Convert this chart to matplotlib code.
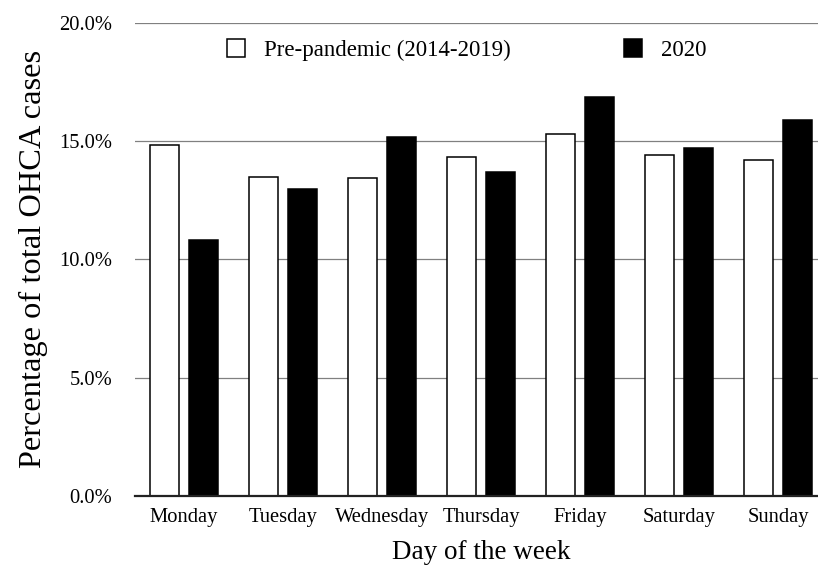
import matplotlib.pyplot as plt
import numpy as np
from matplotlib.patches import Patch
from matplotlib.ticker import PercentFormatter

days = ["Monday", "Tuesday", "Wednesday", "Thursday", "Friday", "Saturday", "Sunday"]
pre_pandemic = [14.85, 13.50, 13.43, 14.32, 15.31, 14.42, 14.19]
year_2020 = [10.81, 12.99, 15.18, 13.70, 16.86, 14.69, 15.89]
y_ticks = [0, 5, 10, 15, 20]

plt.rcParams["font.family"] = ["Liberation Serif", "DejaVu Serif"]

figure = plt.figure(figsize=(8.18, 5.66), dpi=100)
axis = figure.add_axes([0.1646, 0.1237, 0.847, 0.8362])

x = np.arange(len(days))
offset = 0.198
width = 0.29
axis.bar(x - offset, pre_pandemic, width, color="white", edgecolor="black",
         linewidth=1.1, zorder=3)
axis.bar(x + offset, year_2020, width, color="black", edgecolor="black",
         linewidth=1.1, zorder=3)

axis.set_xlim(-0.5, len(days) - 0.5)
axis.set_ylim(0, 20)
axis.set_yticks(y_ticks)
axis.yaxis.set_major_formatter(PercentFormatter(decimals=1))
axis.set_xticks(x)
axis.set_xticklabels(days)
axis.tick_params(axis="both", length=0, labelsize=14.8)
axis.tick_params(axis="y", pad=16)
axis.tick_params(axis="x", pad=9)

axis.grid(axis="y", color="#808080", linewidth=0.9, zorder=0)
for side in ["top", "right", "left"]:
    axis.spines[side].set_visible(False)
axis.spines["bottom"].set_color("#222222")
axis.spines["bottom"].set_linewidth(1.6)
axis.spines["bottom"].set_zorder(4)

axis.set_xlabel("Day of the week", fontsize=19.5, labelpad=9)
axis.set_ylabel("Percentage of total OHCA cases", fontsize=23.3, labelpad=8)

handles = [
    Patch(facecolor="white", edgecolor="black", linewidth=1.1),
    Patch(facecolor="black", edgecolor="black", linewidth=1.1),
]
figure.legend(
    handles,
    ["Pre-pandemic (2014-2019)", "2020"],
    loc="center left",
    bbox_to_anchor=(227 / 818, 1 - 50 / 566),
    ncol=2,
    frameon=False,
    fontsize=16.5,
    handlelength=0.8,
    handleheight=0.8,
    handletextpad=0.8,
    columnspacing=4.95,
    borderpad=0,
    borderaxespad=0,
)

figure.savefig("out.png", dpi=100)
plt.close(figure)
